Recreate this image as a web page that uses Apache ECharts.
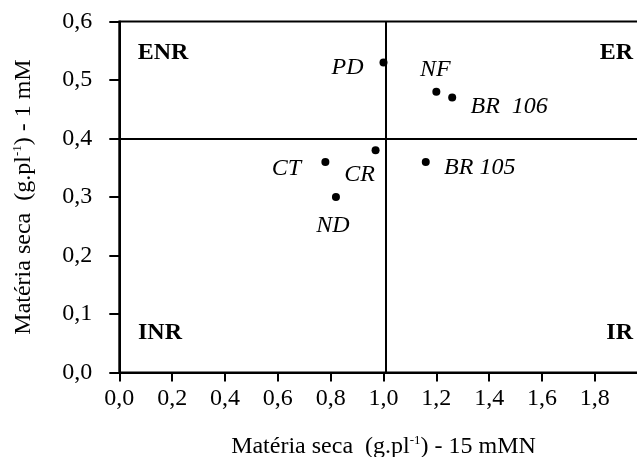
<!DOCTYPE html>
<html><head><meta charset="utf-8">
<script src="https://cdn.jsdelivr.net/npm/echarts@6/dist/echarts.min.js"></script>
<style>html,body{margin:0;padding:0;background:#fff}#c{width:637px;height:457px}</style>
</head><body><div id="c"></div>
<script>
// Data
const names = ['PD', 'NF', 'BR  106', 'CR', 'CT', 'BR 105', 'ND'];
const xValues = [1.00, 1.20, 1.26, 0.97, 0.78, 1.16, 0.82];
const yValues = [0.53, 0.48, 0.47, 0.38, 0.36, 0.36, 0.30];
const xThreshold = 1.01;
const yThreshold = 0.40;
const xTicks = [0, 0.2, 0.4, 0.6, 0.8, 1.0, 1.2, 1.4, 1.6, 1.8];
const yTicks = [0, 0.1, 0.2, 0.3, 0.4, 0.5, 0.6];
const quadrantNames = ['ENR', 'ER', 'INR', 'IR'];

// Label offsets (style, not data): [dx, dy] of text centre from point
const labelOffsets = {
  'PD': [-36, 5], 'NF': [-1, -22], 'BR  106': [57, 9], 'CR': [-16, 24],
  'CT': [-39, 7], 'BR 105': [54, 6], 'ND': [-3, 29]
};
const quadPos = [[163, 53, 'center'], [633, 53, 'right'], [160, 333, 'center'], [633, 333, 'right']];

const FONT = '"Liberation Serif", "Times New Roman", serif';
const fmt = v => v.toFixed(1).replace('.', ',');

const chart = echarts.init(document.getElementById('c'), null, {renderer: 'canvas'});
const data = names.map((n, i) => ({
  name: n, value: [xValues[i], yValues[i]],
  label: {show: true, position: 'inside', offset: labelOffsets[n], formatter: n,
    fontFamily: FONT, fontStyle: 'italic', fontSize: 24, color: '#000',
    textBorderWidth: 0, textBorderColor: 'transparent'}
}));

const richName = {
  a: {fontFamily: FONT, fontSize: 24, color: '#000'},
  s: {fontFamily: FONT, fontSize: 13, color: '#000', verticalAlign: 'top', padding: [0, 0, 10, 0]}
};

chart.setOption({
  animation: false,
  backgroundColor: '#fff',
  grid: {left: 119.3, right: -10.7, top: 21.5, bottom: 84.5, outerBoundsMode: 'none', containLabel: false,
    show: true, borderColor: '#000', borderWidth: 2},
  xAxis: {
    type: 'value', min: 0, max: 2.0, interval: 0.2,
    axisLine: {show: true, lineStyle: {color: '#000', width: 2}},
    axisTick: {show: true, length: 9, lineStyle: {color: '#000', width: 2}},
    splitLine: {show: false},
    axisLabel: {color: '#000', fontFamily: FONT, fontSize: 24, margin: 14, showMaxLabel: false,
      formatter: v => xTicks.some(t => Math.abs(t - v) < 1e-6) ? fmt(v) : ''},
    name: '{a|Matéria seca  (g.pl}{s|-1}{a|) - 15 mMN}',
    nameLocation: 'middle', nameGap: 62,
    nameTextStyle: {rich: richName}
  },
  yAxis: {
    type: 'value', min: 0, max: 0.6, interval: 0.1,
    axisLine: {show: true, lineStyle: {color: '#000', width: 2}},
    axisTick: {show: true, length: 10, lineStyle: {color: '#000', width: 2}},
    splitLine: {show: false},
    axisLabel: {color: '#000', fontFamily: FONT, fontSize: 24, margin: 27,
      formatter: v => yTicks.some(t => Math.abs(t - v) < 1e-6) ? fmt(v) : ''},
    name: '{a|Matéria seca  (g.pl}{s|-1}{a|) - 1 mM}',
    nameLocation: 'middle', nameGap: 84, nameRotate: 90,
    nameTextStyle: {rich: richName}
  },
  series: [{
    type: 'scatter', symbol: 'circle', symbolSize: 8,
    itemStyle: {color: '#000', opacity: 1},
    data: data,
    markLine: {
      silent: true, symbol: 'none', label: {show: false},
      lineStyle: {color: '#000', width: 2, type: 'solid'},
      data: [{xAxis: xThreshold}, {yAxis: yThreshold}]
    }
  }],
  graphic: quadrantNames.map((t, i) => ({
    type: 'text', x: quadPos[i][0], y: quadPos[i][1],
    style: {text: t, fontFamily: FONT, fontWeight: 'bold', fontSize: 24, fill: '#000',
      textAlign: quadPos[i][2], textVerticalAlign: 'middle'}
  }))
});
</script></body></html>
